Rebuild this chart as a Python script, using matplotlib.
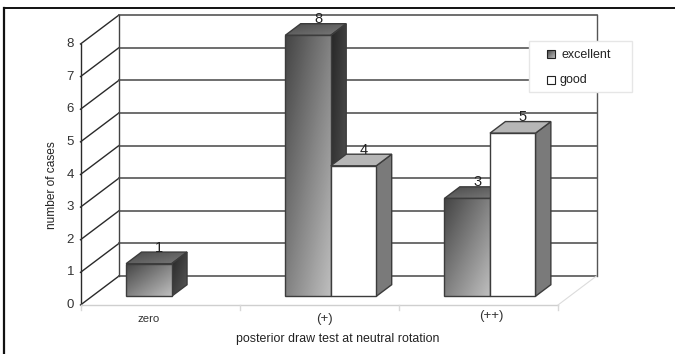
import numpy as np
import matplotlib
matplotlib.use("Agg")
import matplotlib.pyplot as plt
from matplotlib.colors import LinearSegmentedColormap
from matplotlib.patches import Polygon, Rectangle

plt.rcParams['font.family'] = ['Liberation Sans', 'DejaVu Sans']

categories = ['zero', '(+)', '(++)']
series_names = ['excellent', 'good']
excellent = [1, 8, 3]
good = [None, 4, 5]
y_ticks = [0, 1, 2, 3, 4, 5, 6, 7, 8]

W, H = 675, 354
# front plane of the 3d box in pixels
X0, X1 = 80.5, 558.0
Y0, Y8 = 305.0, 44.0
UX = (X1 - X0) / 3
UY = (Y0 - Y8) / 8
DX = 38.5 / UX   # depth offset in data units
DY = 29.0 / UY
BAR_W = 45.5 / UX
LINE = '#3c3c3c'

fig = plt.figure(figsize=(W / 100, H / 100), dpi=100, facecolor='white')
ax = fig.add_axes([0, 0, 1, 1])
ax.axis('off')


def proj(x, v, d):
    return (x + d * DX, v + d * DY)


def grad_poly(pts, c_dark, c_light, z):
    # dark top left to light bottom right, clipped to the face
    xs = [p[0] for p in pts]
    ys = [p[1] for p in pts]
    xx, yy = np.meshgrid(np.linspace(0, 1, 64), np.linspace(0, 1, 64))
    im = ax.imshow((xx + yy) / 2, extent=(min(xs), max(xs), min(ys), max(ys)), origin='upper',
                   aspect='auto', cmap=LinearSegmentedColormap.from_list('g', [c_dark, c_light]),
                   vmin=0, vmax=1, zorder=z, interpolation='bilinear')
    clip = Polygon(pts, closed=True, transform=ax.transData, fc='none', ec='none')
    ax.add_patch(clip)
    im.set_clip_path(clip)
    ax.add_patch(Polygon(pts, closed=True, fc='none', ec=LINE, lw=1.0, zorder=z + 0.1))


def draw_bar(left, v, kind, z):
    right = left + BAR_W
    front = [proj(left, 0, 0.3), proj(right, 0, 0.3), proj(right, v, 0.3), proj(left, v, 0.3)]
    top = [proj(left, v, 0.3), proj(right, v, 0.3), proj(right, v, 0.7), proj(left, v, 0.7)]
    side = [proj(right, 0, 0.3), proj(right, 0, 0.7), proj(right, v, 0.7), proj(right, v, 0.3)]
    if kind == 'excellent':
        grad_poly(side, '#262626', '#5a5a5a', z)
        grad_poly(top, '#4a4a4a', '#7a7a7a', z)
        grad_poly(front, '#444444', '#bebebe', z + 0.2)
    else:
        ax.add_patch(Polygon(side, closed=True, fc='#7a7a7a', ec=LINE, lw=1.0, zorder=z))
        ax.add_patch(Polygon(top, closed=True, fc='#b6b6b6', ec=LINE, lw=1.0, zorder=z))
        ax.add_patch(Polygon(front, closed=True, fc='white', ec=LINE, lw=1.0, zorder=z + 0.2))
    lx, ly = proj(left + BAR_W * 0.38, v, 0.7)
    ax.text(lx, ly - 0.08, str(v), fontsize=10.5, ha='center', va='bottom',
            color='#222222', zorder=z + 0.3)


# walls and grid
xs_back = proj(0, 0, 1)[0], proj(3, 0, 1)[0]
for t in y_ticks:
    bx, by = proj(0, t, 1)
    ax.plot([0, bx], [t, by], color='#2a2a2a', lw=1.0, zorder=1)
    ax.plot([bx, xs_back[1]], [by, by], color='#555555', lw=1.2, zorder=1)
    ax.text(-0.04, t, str(t), ha='right', va='center', fontsize=9.5, color='#333333')
ax.plot([0, 0], [0, 8], color='#2a2a2a', lw=1.0, zorder=1)
ax.plot([xs_back[0]] * 2, [proj(0, 0, 1)[1], proj(0, 8, 1)[1]], color='#444444', lw=1.0, zorder=1)
ax.plot([xs_back[1]] * 2, [proj(0, 0, 1)[1], proj(0, 8, 1)[1]], color='#555555', lw=1.0, zorder=1)

# floor
ax.plot([0, 3], [0, 0], color='#cfcfcf', lw=1.0, zorder=1)
ax.plot([3, xs_back[1]], [0, proj(0, 0, 1)[1]], color='#dcdcdc', lw=0.8, zorder=1)
for i in range(len(categories) + 1):
    ax.plot([i, i], [0, -0.14], color='#d8d8d8', lw=1.0, zorder=1)

# bars
for i in range(len(categories)):
    c = i + 0.5
    draw_bar(c - BAR_W, excellent[i], 'excellent', 3)
    if good[i] is not None:
        draw_bar(c, good[i], 'good', 4)

# category labels
cat_dx = [-0.073, 0.031, 0.083]
cat_y = [-0.43, -0.43, -0.34]
cat_size = [8.2, 9.5, 9.5]
for i, lab in enumerate(categories):
    ax.text(i + 0.5 + cat_dx[i], cat_y[i], lab, ha='center', va='center',
            fontsize=cat_size[i], color='#333333')

# whole figure as the axes, so the box sits at its place and bars can pass the 8 line
ax.set_xlim(-X0 / UX, (W - X0) / UX)
ax.set_ylim((Y0 - H) / UY, Y0 / UY)

fig.text(338 / W, 1 - 339 / H, 'posterior draw test at neutral rotation', ha='center', va='center',
         fontsize=8.95, color='#222222')
fig.text(52 / W, 1 - 185 / H, 'number of cases', rotation=90, ha='center', va='center',
         fontsize=8.6, color='#222222')

# outer rule, top and left only
fig.add_artist(plt.Line2D([4 / W, 1], [1 - 8 / H, 1 - 8 / H], color='#111111', lw=1.4))
fig.add_artist(plt.Line2D([4 / W, 4 / W], [0, 1 - 8 / H], color='#111111', lw=1.6))

# legend box
lg = fig.add_axes([0, 0, 1, 1], zorder=10)
lg.axis('off')
lg.add_patch(Rectangle((529, 41), 103, 51, fc='white', ec='#e6e6e6', lw=1.0))
hx, hy = np.meshgrid(np.linspace(0, 1, 16), np.linspace(0, 1, 16))
lg.imshow((hx + hy) / 2, extent=(547, 555, 58, 50), aspect='auto', zorder=11,
          cmap=LinearSegmentedColormap.from_list('l', ['#444444', '#bbbbbb']))
lg.add_patch(Rectangle((547, 50), 8, 8, fc='none', ec='#222222', lw=0.8, zorder=12))
lg.add_patch(Rectangle((547, 76), 8, 8, fc='white', ec='#222222', lw=0.8, zorder=12))
lg.text(561, 54.5, series_names[0], fontsize=9, va='center', color='#222222', zorder=12)
lg.text(560, 80, series_names[1], fontsize=9, va='center', color='#222222', zorder=12)
lg.set_xlim(0, W)
lg.set_ylim(H, 0)

fig.savefig('out.png', dpi=100, facecolor='white')
